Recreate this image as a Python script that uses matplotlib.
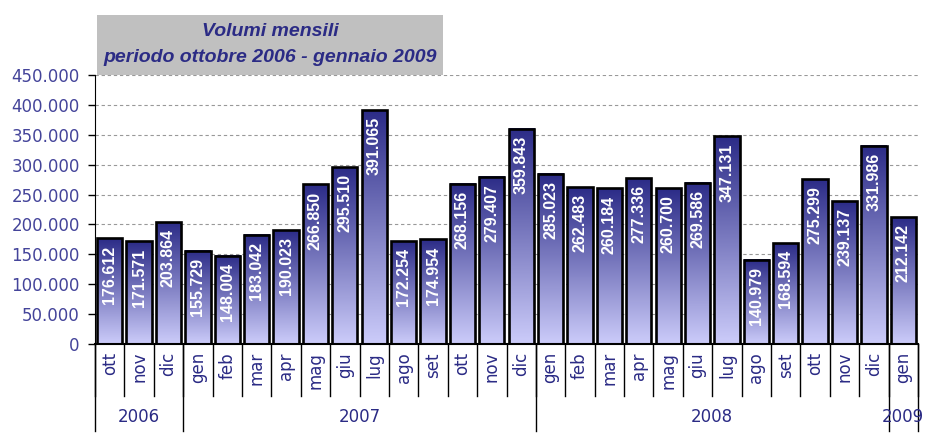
import matplotlib.pyplot as plt
import matplotlib.transforms as mtransforms
from matplotlib.patches import Rectangle
import numpy as np

# monthly volumes, Oct 2006 - Jan 2009
months = ['ott', 'nov', 'dic',
          'gen', 'feb', 'mar', 'apr', 'mag', 'giu', 'lug', 'ago', 'set', 'ott', 'nov', 'dic',
          'gen', 'feb', 'mar', 'apr', 'mag', 'giu', 'lug', 'ago', 'set', 'ott', 'nov', 'dic',
          'gen']
years = ['2006', '2007', '2008', '2009']
months_per_year = [3, 12, 12, 1]
volumes = [176612, 171571, 203864,
           155729, 148004, 183042, 190023, 266850, 295510, 391065, 172254, 174954, 268156, 279407, 359843,
           285023, 262483, 260184, 277336, 260700, 269586, 347131, 140979, 168594, 275299, 239137, 331986,
           212142]
yticks = list(range(0, 450001, 50000))

text_col = '#2b2b85'
tick_col = '#44449a'


def fmt(v):
    return '{:,}'.format(v).replace(',', '.')


def main():
    fig = plt.figure(figsize=(9.31, 4.34), dpi=100)
    ax = fig.add_axes([95 / 931, 90 / 434, (918 - 95) / 931, 269 / 434])

    n = len(volumes)
    x = np.arange(n)
    w = 0.86

    # vertical gradient: dark navy at top, lavender at bottom
    grad = np.linspace(1, 0, 256).reshape(-1, 1)
    top = np.array([0.17, 0.17, 0.53])
    bot = np.array([0.80, 0.80, 0.98])
    img = grad[..., None] * top + (1 - grad[..., None]) * bot

    for y in yticks[1:]:
        ax.axhline(y, color='#999999', lw=0.8, ls=(0, (3, 2.5)), zorder=0)

    for xi, v in zip(x, volumes):
        ax.imshow(img, extent=[xi - w / 2, xi + w / 2, 0, v], aspect='auto',
                  origin='upper', zorder=2)
        ax.add_patch(Rectangle((xi - w / 2, 0), w, v, fill=False,
                               edgecolor='black', lw=1.9, zorder=3))
        ax.annotate(fmt(v), (xi, v), xytext=(0, -5), textcoords='offset points',
                    rotation=90, ha='center', va='top', color='white',
                    fontsize=11.5, fontweight='bold', family='Liberation Sans', zorder=4)

    ax.set_xlim(-0.5, n - 0.5)
    ax.set_ylim(0, 450000)
    ax.set_yticks(yticks)
    ax.set_yticklabels([fmt(t) for t in yticks], color=tick_col, fontsize=12)
    ax.tick_params(axis='y', length=5, width=1, direction='out', pad=6)
    ax.set_xticks([])
    for s in ['top', 'right']:
        ax.spines[s].set_visible(False)
    ax.spines['left'].set_color('black')
    ax.spines['bottom'].set_color('black')
    ax.spines['bottom'].set_linewidth(1.5)

    trans = mtransforms.blended_transform_factory(ax.transData, ax.transAxes)
    px = 1 / 269

    # month labels and separators
    for xi, m in zip(x, months):
        ax.text(xi, -8 * px, m, rotation=90, ha='center', va='top', color=text_col,
                fontsize=12, transform=trans, clip_on=False)
    for b in np.arange(n + 1) - 0.5:
        ax.plot([b, b], [0, -52 * px], color='black', lw=1, transform=trans, clip_on=False)

    # year labels and separators
    start = 0
    bounds = [-0.5]
    for yr, cnt in zip(years, months_per_year):
        center = start + (cnt - 1) / 2
        ax.text(center, -73 * px, yr, ha='center', va='center', color=text_col,
                fontsize=12, transform=trans, clip_on=False)
        start += cnt
        bounds.append(start - 0.5)
    for b in bounds:
        ax.plot([b, b], [0, -87 * px], color='black', lw=1, transform=trans, clip_on=False)

    # title box
    fig.patches.append(Rectangle((97 / 931, 1 - 75 / 434), 346 / 931, 60 / 434,
                                 transform=fig.transFigure, facecolor='#c0c0c0',
                                 edgecolor='none', zorder=5))
    fig.text(270 / 931, 1 - 32 / 434, 'Volumi mensili', ha='center', va='center',
             color=text_col, fontsize=14, fontweight='bold', style='italic',
             family='Liberation Sans', zorder=6)
    fig.text(270 / 931, 1 - 58 / 434, 'periodo ottobre 2006 - gennaio 2009', ha='center',
             va='center', color=text_col, fontsize=14, fontweight='bold', style='italic',
             family='Liberation Sans', zorder=6)

    fig.savefig('out.png', dpi=100)


main()
